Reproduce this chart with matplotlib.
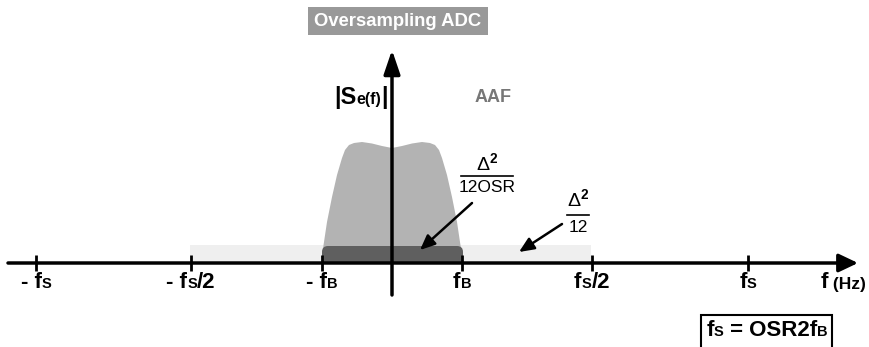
import matplotlib
matplotlib.use("Agg")
import matplotlib.pyplot as plt
from matplotlib.offsetbox import TextArea, HPacker, AnnotationBbox
from matplotlib.path import Path
from matplotlib.patches import PathPatch, Rectangle, Polygon

plt.rcParams['font.family'] = ['Liberation Sans', 'DejaVu Sans']
plt.rcParams['mathtext.fontset'] = 'custom'
plt.rcParams['mathtext.rm'] = 'Liberation Sans'
plt.rcParams['mathtext.bf'] = 'Liberation Sans:bold'
plt.rcParams['mathtext.it'] = 'Liberation Sans:italic'

# ---- data (frequency axis units; origin at f = 0) ----
tick_pos = [-356, -201, -70, 70, 200, 356]
tick_labels = [
    [("- f", 16), ("S", 10.5)],
    [("- f", 16), ("S", 10.5), ("/2", 16)],
    [("- f", 16), ("B", 10.5)],
    [("f", 16), ("B", 10.5)],
    [("f", 16), ("S", 10.5), ("/2", 16)],
    [("f", 16), ("S", 10.5)],
]
# quantisation noise floor (-fs/2 .. fs/2) and in-band noise (-fB .. fB)
noise_band = (-202, 199)
noise_level = 18
inband = (-70, 71)
inband_level = 17
# AAF magnitude, right half (offset from 0, magnitude); mirrored for left half
aaf_f = [0, 10, 20, 30, 38, 43, 47, 50, 55, 60, 65, 68, 70, 71]
aaf_m = [115, 117, 119.5, 121, 120, 118, 113, 105, 88, 66, 41, 21, 8, 0]

W, H = 869, 347
X0, Y0 = 392, 263          # pixel position of origin


def P(px, py):
    return px - X0, Y0 - py


fig = plt.figure(figsize=(W / 100, H / 100), dpi=100)
ax = fig.add_axes([0, 0, 1, 1])
ax.set_xlim(-X0, W - X0)
ax.set_ylim(Y0 - H, Y0)
ax.axis('off')

# light noise floor band
ax.add_patch(Rectangle((noise_band[0], 0), noise_band[1] - noise_band[0], noise_level,
                       facecolor='#efefef', edgecolor='none', zorder=1))

# AAF shape
xs = [-f for f in aaf_f[::-1]] + aaf_f[1:]
ys = aaf_m[::-1] + aaf_m[1:]
ax.add_patch(Polygon(list(zip(xs, ys)), closed=True, facecolor='#b3b3b3',
                     edgecolor='none', zorder=2))

# in-band noise, rounded top corners
r = 6
x1, x2 = inband
h = inband_level
verts = [(x1, 0), (x1, h - r), (x1, h), (x1 + r, h), (x2 - r, h), (x2, h), (x2, h - r),
         (x2, 0), (x1, 0)]
codes = [Path.MOVETO, Path.LINETO, Path.CURVE3, Path.CURVE3, Path.LINETO, Path.CURVE3,
         Path.CURVE3, Path.LINETO, Path.CLOSEPOLY]
ax.add_patch(PathPatch(Path(verts, codes), facecolor='#5f5f5f', edgecolor='none', zorder=3))

# axes with arrows
ax.annotate('', xy=P(858, 263), xytext=P(8, 263),
            arrowprops=dict(arrowstyle='-|>,head_length=0.4,head_width=0.19', lw=2.5,
                            color='black', mutation_scale=29, shrinkA=0, shrinkB=0),
            zorder=6)
ax.annotate('', xy=P(392, 50), xytext=P(392, 295),
            arrowprops=dict(arrowstyle='-|>,head_length=0.5,head_width=0.17', lw=2.5,
                            color='black', mutation_scale=29, shrinkA=0, shrinkB=0),
            zorder=6)

# ticks
for t in tick_pos:
    ax.plot([t, t], [-8, 8], color='black', lw=2, solid_capstyle='butt', zorder=6)


def mixed(x, y, parts, color='black', align=(0.5, 0.5), weight='bold'):
    boxes = [TextArea(s, textprops=dict(fontsize=fs, fontweight=weight, color=color))
             for s, fs in parts]
    pack = HPacker(children=boxes, align='baseline', pad=0, sep=0)
    ab = AnnotationBbox(pack, (x, y), xycoords='data', box_alignment=align,
                        frameon=False, pad=0, zorder=7)
    ax.add_artist(ab)


for t, lab in zip(tick_pos, tick_labels):
    mixed(t, Y0 - 283, lab)

mixed(*P(843, 283), [("f", 16), (" (Hz)", 12.5)])

# y-axis label
mixed(*P(361, 97), [("|S", 17), ("e(f)", 11.5), ("|", 17)])

# AAF label
ax.text(*P(493, 97), "AAF", fontsize=13, fontweight='bold', color='#777777',
        ha='center', va='center')

# title
ax.text(*P(398, 21), "Oversampling ADC", fontsize=13.3, fontweight='bold', color='white',
        ha='center', va='center',
        bbox=dict(boxstyle='square,pad=0.32', facecolor='#999999', edgecolor='none'))

# noise fractions
ax.text(*P(487, 163), r'$\mathrm{\Delta}^{\mathbf{2}}$', fontsize=14, ha='center', va='center')
ax.plot([P(461, 0)[0], P(513, 0)[0]], [Y0 - 176, Y0 - 176], color='black', lw=1.2)
ax.text(*P(487, 187), "12OSR", fontsize=12.5, ha='center', va='center')

ax.text(*P(578, 199), r'$\mathrm{\Delta}^{\mathbf{2}}$', fontsize=14, ha='center', va='center')
ax.plot([P(567, 0)[0], P(589, 0)[0]], [Y0 - 215, Y0 - 215], color='black', lw=1.2)
ax.text(*P(578, 227), "12", fontsize=12.5, ha='center', va='center')

arrow_kw = dict(arrowstyle='-|>,head_length=0.5,head_width=0.22', lw=1.8, color='black',
                mutation_scale=18, shrinkA=0, shrinkB=0)
ax.annotate('', xy=P(420, 250), xytext=P(472, 203), arrowprops=arrow_kw, zorder=6)
ax.annotate('', xy=P(519, 252), xytext=P(562, 224), arrowprops=arrow_kw, zorder=6)

# relation box
ax.add_patch(Rectangle(P(701, 360), 131, 45, facecolor='none', edgecolor='black',
                       lw=1.5, clip_on=False, zorder=5))
mixed(*P(767, 331), [("f", 16), ("S", 10.5), (" = OSR2f", 16), ("B", 10.5)])

fig.savefig("out.png", dpi=100)
